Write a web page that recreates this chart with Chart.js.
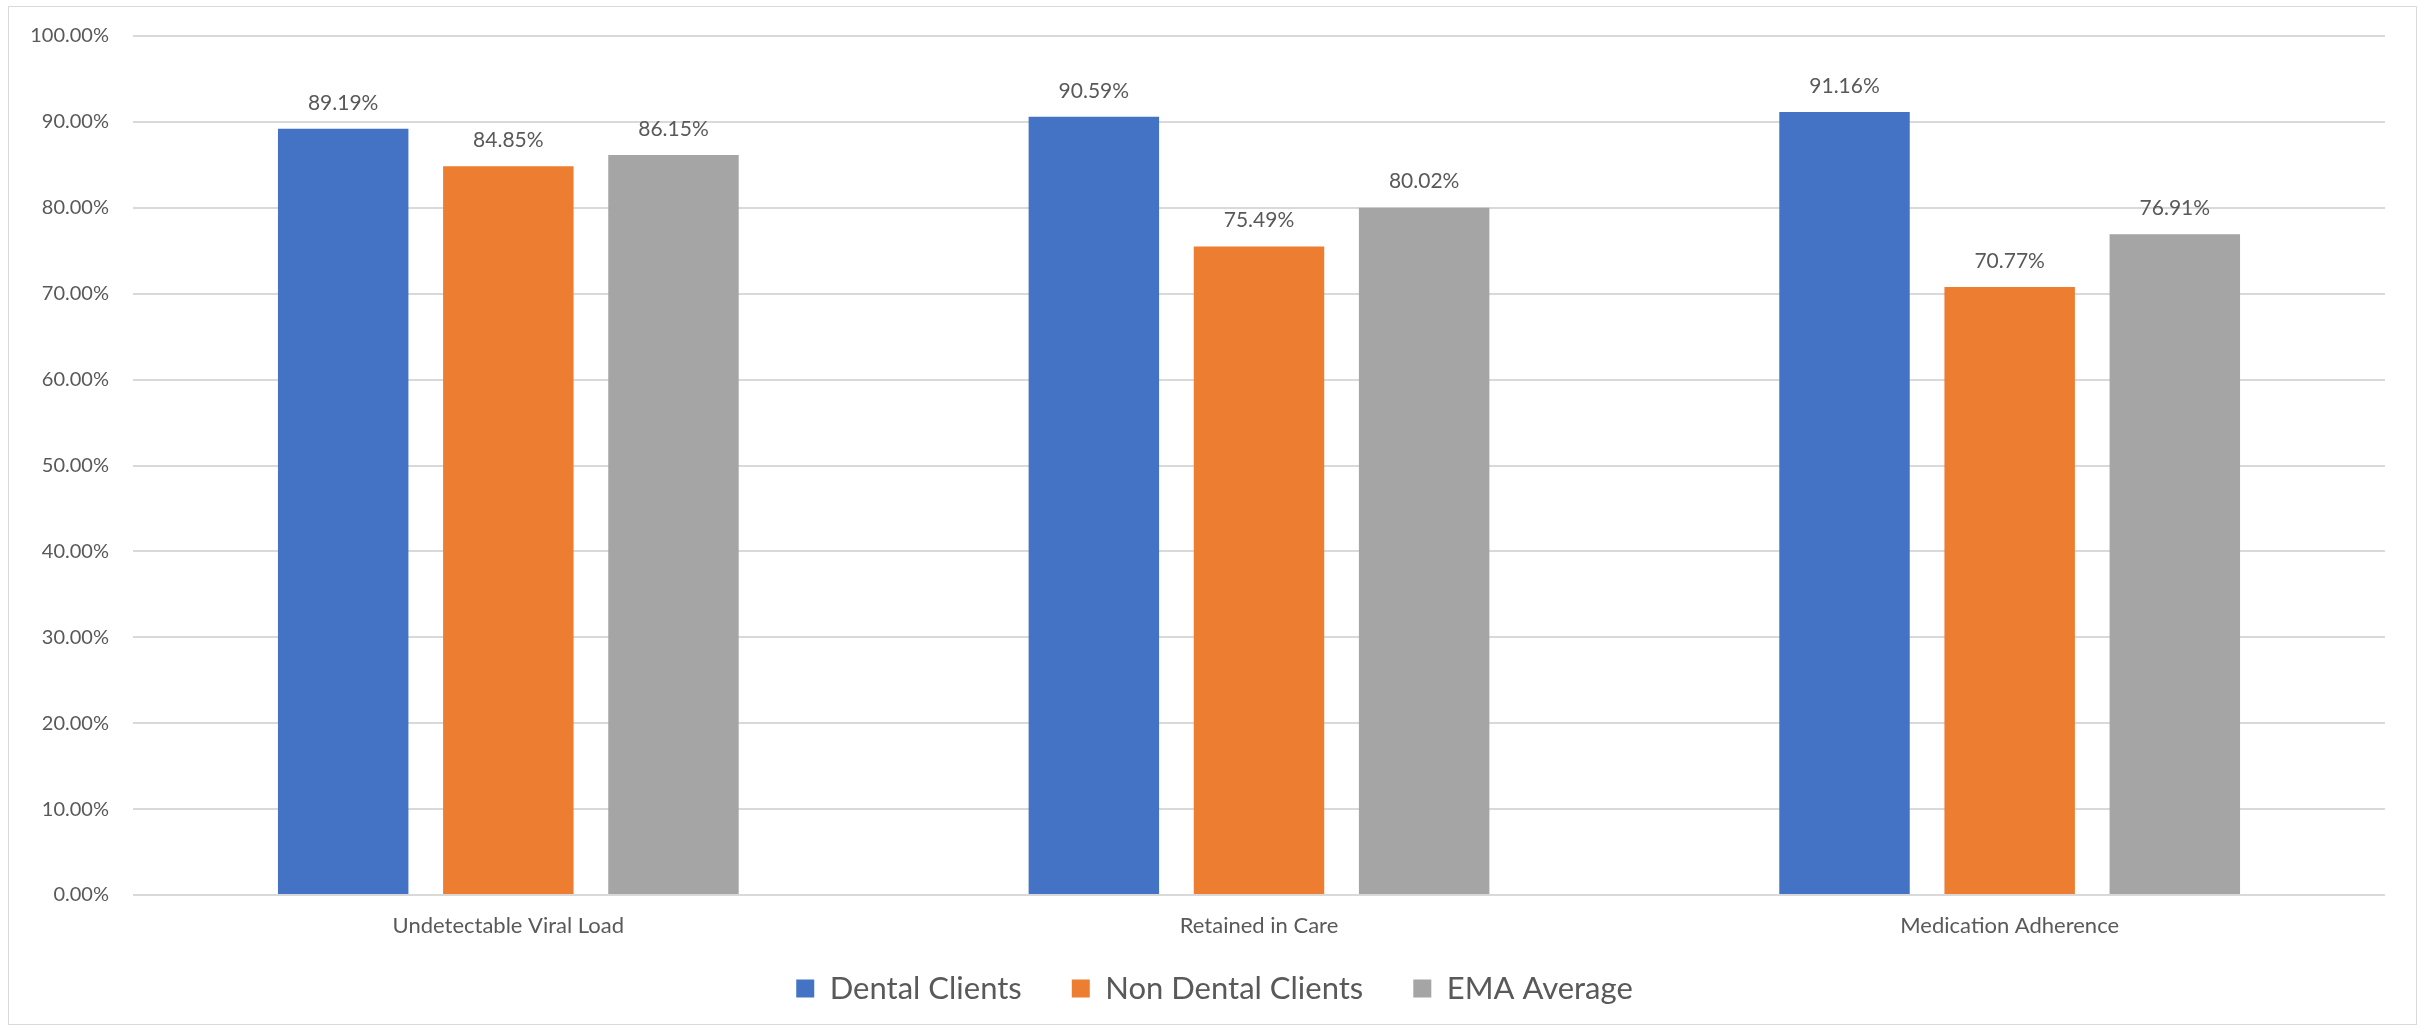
<!DOCTYPE html>
<html>
<head>
<meta charset="utf-8">
<script src="https://cdn.jsdelivr.net/npm/chart.js@4"></script>
<style>
  html, body { margin: 0; padding: 0; background: #fff; }
  #frame {
    position: absolute; left: 8px; top: 6px;
    width: 2407px; height: 1017px;
    border: 1px solid #d9d9d9;
  }
  #wrap { position: absolute; left: 0; top: 0; width: 2425px; height: 1029px; }
</style>
</head>
<body>
<div id="frame"></div>
<div id="wrap"><canvas id="chart" width="2425" height="1029"></canvas></div>
<script>
// chart data
const categories  = ["Undetectable Viral Load", "Retained in Care", "Medication Adherence"];
const seriesNames = ["Dental Clients", "Non Dental Clients", "EMA Average"];
const dental      = [89.19, 90.59, 91.16];
const nonDental   = [84.85, 75.49, 70.77];
const emaAverage  = [86.15, 80.02, 76.91];
const yTicks      = [0, 10, 20, 30, 40, 50, 60, 70, 80, 90, 100];

const colors   = ["#4472C4", "#ED7D31", "#A5A5A5"];
const textGrey = "#595959";
const fontName = "Lato";

// value labels above each bar
const barLabels = {
  id: "barLabels",
  afterDatasetsDraw(chart) {
    const ctx = chart.ctx;
    ctx.save();
    ctx.font = `21px ${fontName}`;
    ctx.fillStyle = textGrey;
    ctx.textAlign = "center";
    ctx.textBaseline = "middle";
    chart.data.datasets.forEach((ds, i) => {
      chart.getDatasetMeta(i).data.forEach((bar, j) => {
        ctx.fillText(ds.data[j].toFixed(2) + "%", bar.x, bar.y - 26);
      });
    });
    ctx.restore();
  }
};

// legend: short box, items pulled up closer to the axis labels
const legendPlace = {
  id: "legendPlace",
  beforeLayout(chart) {
    const lg = chart.legend;
    if (lg && !lg._patched) {
      const fit = lg.fit;
      lg.fit = function () { fit.call(this); this.height = 70; };
      lg._patched = true;
    }
  },
  afterLayout(chart) {
    const lg = chart.legend;
    lg.top -= 20;
    lg.left += 22;
    lg.right += 22;
  }
};

new Chart(document.getElementById("chart"), {
  type: "bar",
  data: {
    labels: categories,
    datasets: [dental, nonDental, emaAverage].map((vals, i) => ({
      label: seriesNames[i],
      data: vals,
      backgroundColor: colors[i],
      categoryPercentage: 0.66,
      barPercentage: 0.79
    }))
  },
  options: {
    responsive: false,
    animation: false,
    layout: { padding: { top: 34, right: 40, bottom: 16, left: 0 } },
    plugins: {
      tooltip: { enabled: false },
      legend: {
        position: "bottom",
        labels: {
          boxWidth: 18,
          boxHeight: 18,
          padding: 50,
          color: textGrey,
          font: { family: fontName, size: 31 }
        }
      }
    },
    scales: {
      x: {
        grid: { display: false, drawTicks: false },
        border: { display: false },
        ticks: { color: textGrey, padding: 18, font: { family: fontName, size: 22 } },
        afterFit: s => { s.height = 48; }
      },
      y: {
        min: 0,
        max: 100,
        afterBuildTicks: s => { s.ticks = yTicks.map(v => ({ value: v })); },
        grid: { color: "#d9d9d9", lineWidth: 2, drawTicks: false },
        border: { display: false },
        ticks: {
          color: textGrey,
          padding: 24,
          font: { family: fontName, size: 20 },
          callback: v => v.toFixed(2) + "%"
        },
        afterFit: s => { s.width = 133; }
      }
    }
  },
  plugins: [barLabels, legendPlace]
});
</script>
</body>
</html>
